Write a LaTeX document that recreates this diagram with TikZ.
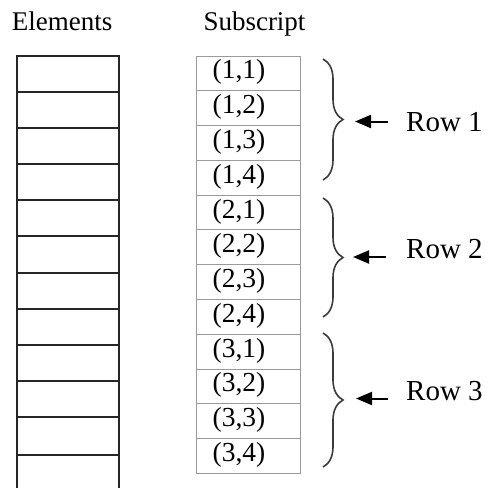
\documentclass[tikz,border=0pt]{standalone}
\usepackage{fontspec}
\setmainfont{Liberation Serif}
\usetikzlibrary{arrows.meta,decorations.pathreplacing}
\definecolor{gridgray}{HTML}{9A9A9A}
\definecolor{bracegray}{HTML}{3A3A3A}
\tikzset{
  txt/.style={inner sep=0pt, text=black},
  head/.style={txt, font=\fontsize{27}{30}\selectfont, anchor=base west},
  celltxt/.style={txt, font=\fontsize{27.5}{30}\selectfont, anchor=base},
  rowtxt/.style={txt, font=\fontsize{29}{32}\selectfont, anchor=base west},
  cell/.style={draw=gridgray, line width=1pt, minimum width=103.3pt,
    minimum height=34.78pt, inner sep=0pt},
  elemline/.style={draw=black!85, line width=1.9pt},
  rowbrace/.style={draw=bracegray, line width=1.6pt,
    decorate, decoration={brace, amplitude=20pt}},
  pointer/.style={draw=black, line width=2pt,
    -{Triangle[length=16pt, width=13pt]}}
}
\begin{document}
\begin{tikzpicture}[x=1pt, y=-1pt]
  \useasboundingbox (0,0) rectangle (491,488);

  % column headings
  \node[head] (hElem) at (11.7,30.7) {Elements};
  \node[head] (hSub)  at (203.3,30.5) {Subscript};

  % element storage column (runs past the lower edge)
  \draw[elemline] (16.7,490) -- (16.7,56) -- (118.7,56) -- (118.7,490);
  \foreach \yy in {92,128,164,200,236,272.7,309,345,381,417,455}
    \draw[elemline] (16.7,\yy) -- (118.7,\yy);

  % subscript column, one cell per element
  \foreach \r in {1,2,3}{
    \foreach \c in {1,2,3,4}{
      \pgfmathsetmacro{\yc}{56 + ((\r-1)*4 + \c - 0.5)*34.78}
      \node[cell] (c\r\c) at (248.5,\yc) {};
      \node[celltxt] (t\r\c) at (239,\yc+5.5) {(\r,\c)};
    }
  }

  % braces grouping each row
  \draw[rowbrace] (323,59)  -- (323,180) coordinate (b1end);
  \draw[rowbrace] (323,198) -- (323,317) coordinate (b2end);
  \draw[rowbrace] (323,333) -- (323,467) coordinate (b3end);

  % row labels with pointers
  \node[rowtxt] (row1) at (406,131) {Row 1};
  \node[rowtxt] (row2) at (406,258) {Row 2};
  \node[rowtxt] (row3) at (406,400) {Row 3};

  \coordinate (p1s) at (388,121.5); \coordinate (p1e) at (355,121.5);
  \coordinate (p2s) at (386,257);   \coordinate (p2e) at (353,257);
  \coordinate (p3s) at (388,398.5); \coordinate (p3e) at (356,398.5);
  \draw[pointer] (p1s) -- (p1e);
  \draw[pointer] (p2s) -- (p2e);
  \draw[pointer] (p3s) -- (p3e);
\end{tikzpicture}
\end{document}
